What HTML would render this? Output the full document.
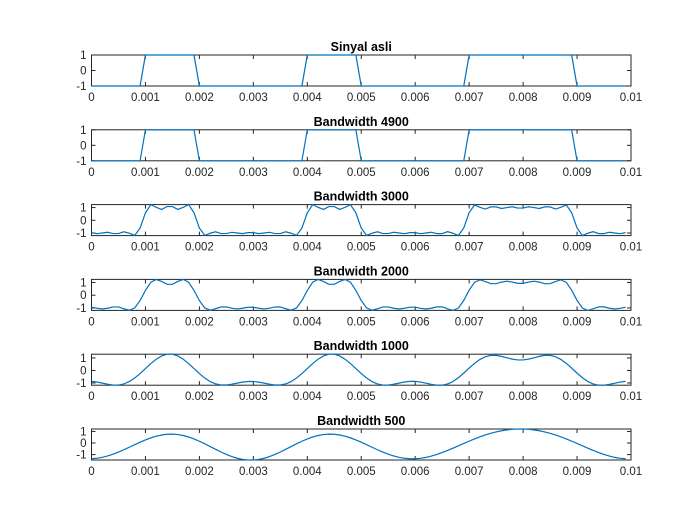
<!DOCTYPE html>
<html><head><meta charset="utf-8"><style>
html,body{margin:0;padding:0;background:#fff;}
svg{display:block;font-family:"Liberation Sans",Arial,sans-serif;}
</style></head><body>
<svg id="fig" width="700" height="525" viewBox="0 0 700 525">
<rect width="700" height="525" fill="#fff"/>
</svg>
<script>
// Data: original pulse signal sampled every 0.0001 s (1 = high, -1 = low), samples 0..99
const highRanges = [[10,19],[40,49],[70,89]];
const titles = ["Sinyal asli","Bandwidth 4900","Bandwidth 3000","Bandwidth 2000","Bandwidth 1000","Bandwidth 500"];
const bandwidths = [null,4900,3000,2000,1000,500];
const xTicks = [0,0.001,0.002,0.003,0.004,0.005,0.006,0.007,0.008,0.009,0.01];
const xTickLabels = ["0","0.001","0.002","0.003","0.004","0.005","0.006","0.007","0.008","0.009","0.01"];
const yTicks = [-1,0,1];
const N = 100, dt = 0.0001, f0 = 100;

const sig = [];
for (let i=0;i<N;i++){ let v=-1; for(const r of highRanges) if(i>=r[0]&&i<=r[1]) v=1; sig.push(v); }
function lowpass(x,bw){
  const K = Math.floor(bw/f0); const n=x.length;
  const re=[],im=[];
  for(let k=0;k<n;k++){let a=0,b=0;for(let t=0;t<n;t++){const ang=-2*Math.PI*k*t/n;a+=x[t]*Math.cos(ang);b+=x[t]*Math.sin(ang);}re.push(a);im.push(b);}
  const y=[];
  for(let t=0;t<n;t++){let s=0;for(let k=0;k<n;k++){if(k<=K||k>=n-K){const ang=2*Math.PI*k*t/n;s+=re[k]*Math.cos(ang)-im[k]*Math.sin(ang);}}y.push(s/n);}
  return y;
}
const NS="http://www.w3.org/2000/svg";
const svg=document.getElementById('fig');
function mk(tag,attrs,parent){const e=document.createElementNS(NS,tag);for(const k in attrs)e.setAttribute(k,attrs[k]);(parent||svg).appendChild(e);return e;}
const L=91.5,R=631,H=31;
const tops=[55,129.8,204.6,279.4,354.2,429];
titles.forEach((title,p)=>{
  const data = bandwidths[p]===null ? sig : lowpass(sig,bandwidths[p]);
  let ymin,ymax;
  if(p<2){ymin=-1;ymax=1;} else {ymin=Math.min(...data);ymax=Math.max(...data);}
  const top=tops[p], bot=top+H;
  const sx=v=>L+(v-0)/(0.01)*(R-L);
  const sy=v=>bot-(v-ymin)/(ymax-ymin)*(bot-top);
  const g=mk('g',{});
  
  
  const t=mk('text',{x:(L+R)/2,y:top-4,'text-anchor':'middle','font-size':'12.5','font-weight':'bold',fill:'#000'},g);
  t.textContent=title;
  
  
  // box
  const box=mk('rect',{x:L,y:top,width:R-L,height:H,fill:'none',stroke:'#262626','stroke-width':'1'},g);
  
  
  xTicks.forEach((v,i)=>{
    const x=sx(v);
    mk('line',{x1:x,x2:x,y1:bot,y2:bot-4,stroke:'#262626'},g);
    mk('line',{x1:x,x2:x,y1:top,y2:top+4,stroke:'#262626'},g);
    const tl=mk('text',{x:x,y:bot+15,'text-anchor':'middle','font-size':'11.5',fill:'#262626'},g);
    tl.textContent=xTickLabels[i];
    
    
  });
  yTicks.forEach(v=>{
    const y=sy(v);
    mk('line',{x1:L,x2:L+4,y1:y,y2:y,stroke:'#262626'},g);
    mk('line',{x1:R,x2:R-4,y1:y,y2:y,stroke:'#262626'},g);
    const tl=mk('text',{x:L-5,y:y+4,'text-anchor':'end','font-size':'11.5',fill:'#262626'},g);
    tl.textContent=String(v);
    
    
  });
  // series (drawn on top of box)
  let d='';
  data.forEach((v,i)=>{d+=(i?'L':'M')+sx(i*dt).toFixed(2)+','+sy(v).toFixed(2);});
  const line=mk('path',{d:d,fill:'none',stroke:'#0072bd','stroke-width':'1.2'},g);
  
  
});
</script>
</body></html>
